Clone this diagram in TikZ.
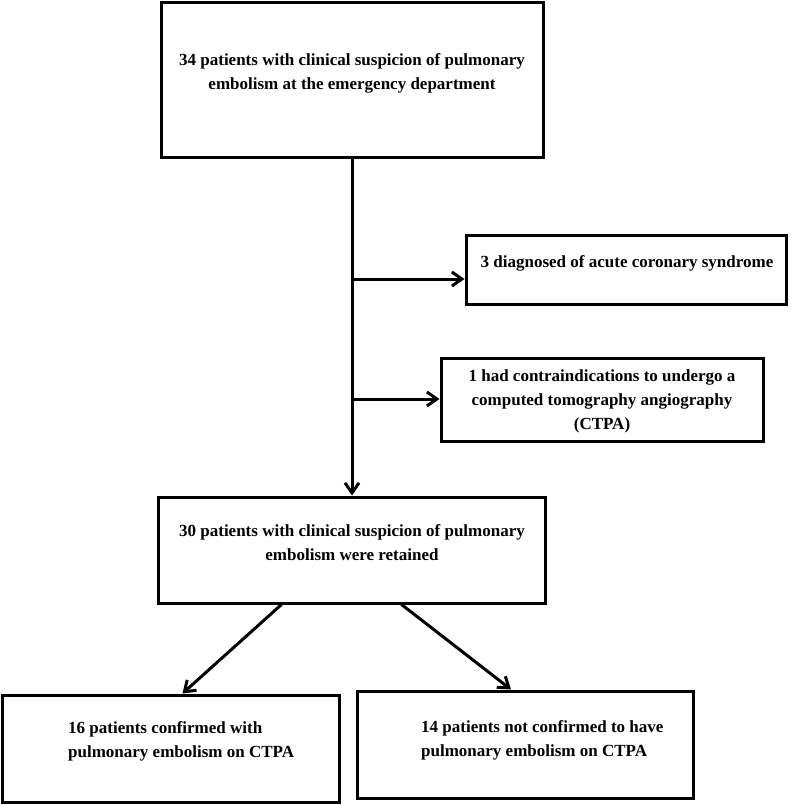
\documentclass[tikz,border=0pt]{standalone}
\usepackage{fontspec}
\setmainfont{Liberation Serif}
\usepackage{tikz}
\usetikzlibrary{arrows.meta}
\tikzset{FCbox/.style={draw,line width=3pt,inner sep=0pt}}
\tikzset{FCtext/.style={align=center,inner sep=0pt,font=\bfseries\fontsize{17}{24}\selectfont}}

\begin{document}
\begin{tikzpicture}[x=1pt,y=-1pt,>={Straight Barb[length=10pt,width=14pt]}]
	\useasboundingbox (0,0) rectangle (790,805);
	\node[FCbox,minimum width=382pt,minimum height=155pt] (S) at (352,80.5) {};
	\node[FCtext] (S-t) at (352,73.5) {34 patients with clinical suspicion of pulmonary\\embolism at the emergency department};
	\node[FCbox,minimum width=320pt,minimum height=69pt] (E1) at (626,269.5) {};
	\node[FCtext] (E1-t) at (627,263) {3 diagnosed of acute coronary syndrome};
	\node[FCbox,minimum width=322pt,minimum height=83pt] (E2) at (602,399.5) {};
	\node[FCtext] (E2-t) at (602,401) {1 had contraindications to undergo a\\computed tomography angiography\\(CTPA)};
	\node[FCbox,minimum width=387pt,minimum height=106pt] (R) at (351.5,550) {};
	\node[FCtext] (R-t) at (352,543) {30 patients with clinical suspicion of pulmonary\\embolism were retained};
	\node[FCbox,minimum width=337pt,minimum height=107pt] (P) at (170.5,748.5) {};
	\node[FCtext,align=left,anchor=west] (P-t) at (68,741) {16 patients confirmed with\\pulmonary embolism on CTPA};
	\node[FCbox,minimum width=336pt,minimum height=107pt] (N) at (525,744.5) {};
	\node[FCtext,align=left,anchor=west] (N-t) at (421,740) {14 patients not confirmed to have\\pulmonary embolism on CTPA};
	%
	\coordinate (b1) at (352,279);
	\coordinate (b2) at (352,399);
	\path[->,line width=3pt]
	(S.south) edge (S.south |- R.north)
	(b1) edge (b1 -| E1.west)
	(b2) edge (b2 -| E2.west)
	([xshift=-70pt]R.south) edge ([xshift=12pt]P.north)
	([xshift=50pt]R.south) edge ([xshift=-14pt]N.north);
\end{tikzpicture}
\end{document}
